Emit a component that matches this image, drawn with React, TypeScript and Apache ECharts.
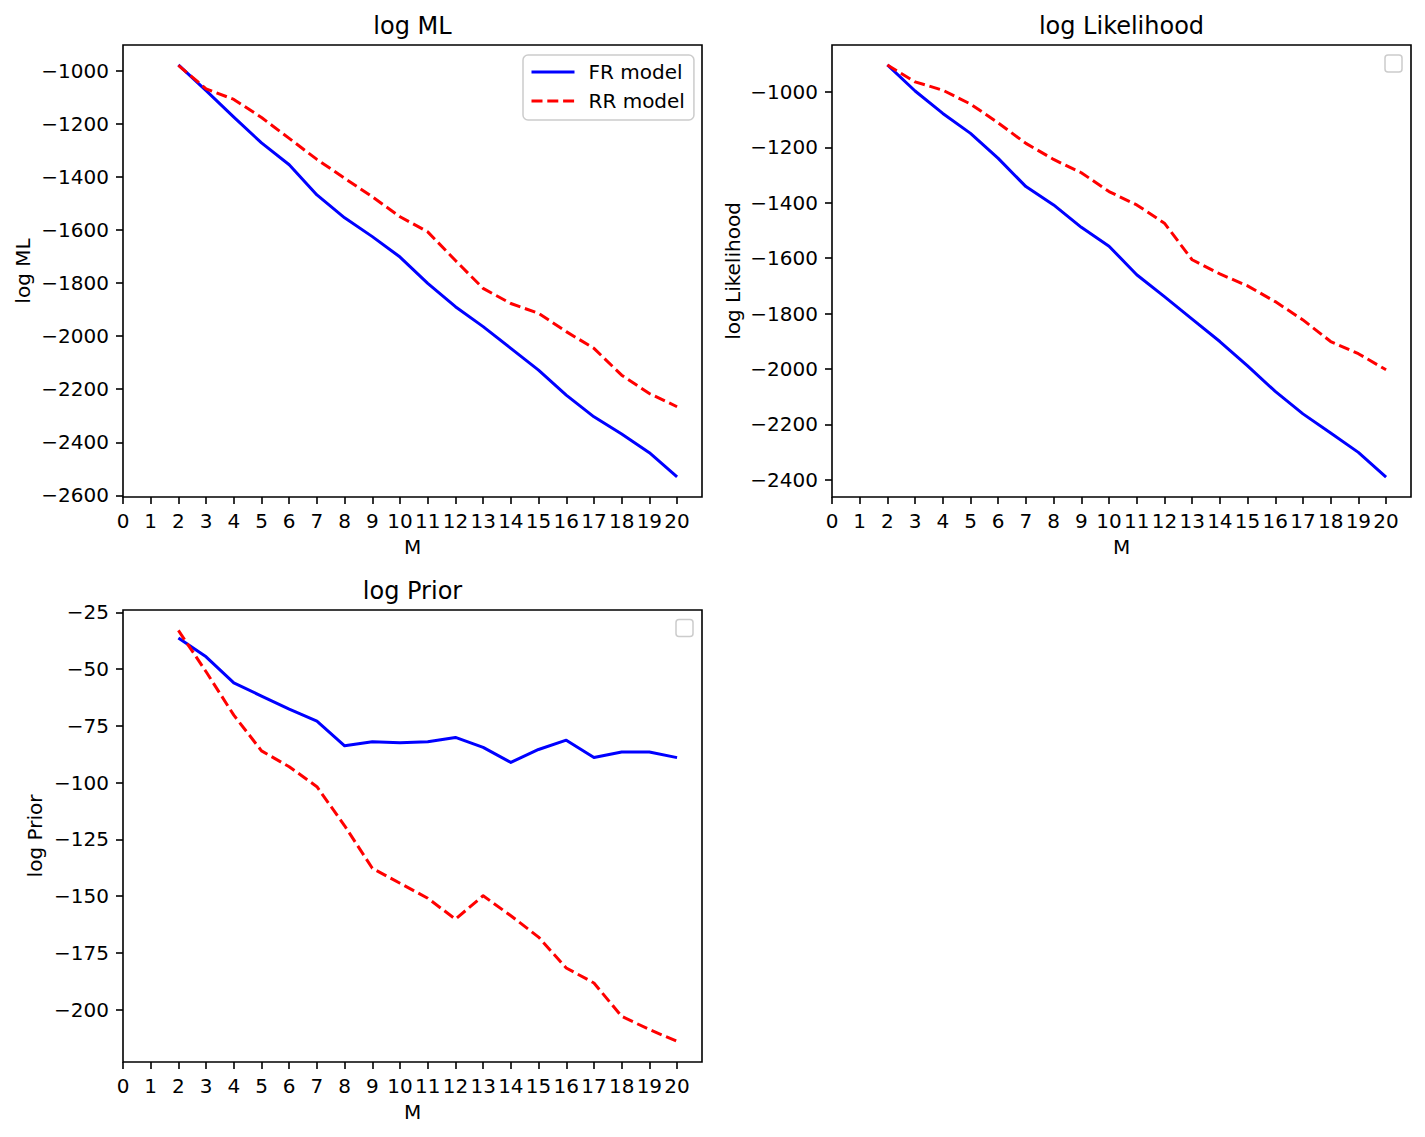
import React, { useEffect, useRef } from "react";
import * as echarts from "echarts";

// ---- data ----
const M = [2, 3, 4, 5, 6, 7, 8, 9, 10, 11, 12, 13, 14, 15, 16, 17, 18, 19, 20];

const frML = [-978, -1075, -1175, -1272, -1354, -1468, -1554, -1625, -1702, -1801, -1889, -1964, -2046, -2128, -2222, -2304, -2369, -2439, -2530];
const rrML = [-980, -1068, -1108, -1176, -1255, -1334, -1405, -1475, -1550, -1607, -1715, -1820, -1877, -1914, -1983, -2046, -2147, -2216, -2266];

const frLik = [-903, -997, -1078, -1150, -1240, -1342, -1408, -1489, -1557, -1660, -1739, -1820, -1901, -1989, -2081, -2162, -2231, -2301, -2390];
const rrLik = [-903, -964, -994, -1044, -1112, -1186, -1244, -1292, -1360, -1408, -1474, -1606, -1657, -1700, -1757, -1823, -1901, -1945, -2003];

const frPrior = [-36.3, -44.6, -56.1, -61.9, -67.6, -72.9, -83.8, -82.0, -82.4, -82.0, -80.1, -84.5, -91.1, -85.4, -81.3, -88.9, -86.5, -86.5, -89.0];
const rrPrior = [-33, -51.2, -70.3, -86, -93, -101.8, -119, -137.7, -144.3, -150.9, -160.1, -149.8, -158.6, -168, -181.6, -188.2, -202.9, -208.7, -213.9];

// ---- tick labels ----
const xTicks = [0, 1, 2, 3, 4, 5, 6, 7, 8, 9, 10, 11, 12, 13, 14, 15, 16, 17, 18, 19, 20];
const yTicksML = [-2600, -2400, -2200, -2000, -1800, -1600, -1400, -1200, -1000];
const yTicksLik = [-2400, -2200, -2000, -1800, -1600, -1400, -1200, -1000];
const yTicksPrior = [-200, -175, -150, -125, -100, -75, -50, -25];

const titles = ["log ML", "log Likelihood", "log Prior"];
const seriesNames = ["FR model", "RR model"];

const FONT = "DejaVu Sans";
const BLUE = "#0000ff";
const RED = "#ff0000";

const fmt = (v: number) => String(v).replace("-", "\u2212");

export default function App() {
  const ref = useRef<HTMLDivElement>(null);

  useEffect(() => {
    const chart = echarts.init(ref.current!, null, { renderer: "svg" });

    const grids = [
      { left: 123, top: 45, width: 579, height: 452 },
      { left: 832, top: 45, width: 579, height: 452 },
      { left: 123, top: 610, width: 579, height: 452 },
    ];
    const yRanges = [
      [-2606, -903],
      [-2462, -831],
      [-223, -24],
    ];
    const yTicks = [yTicksML, yTicksLik, yTicksPrior];
    const yNameGaps = [90, 89, 78];
    const pairs = [
      [frML, rrML],
      [frLik, rrLik],
      [frPrior, rrPrior],
    ];

    const tickStyle = { color: "#000", width: 1.6 };
    const labelBase = { fontFamily: FONT, fontSize: 20, color: "#000" };

    const xAxis = grids.map((_, i) => ({
      type: "value",
      gridIndex: i,
      min: 0,
      max: 20.9,
      name: "M",
      nameLocation: "middle",
      nameGap: 40,
      nameTextStyle: { ...labelBase },
      axisLine: { show: false, onZero: false },
      splitLine: { show: false },
      axisTick: { show: true, inside: false, length: 7, lineStyle: tickStyle, customValues: xTicks },
      axisLabel: { ...labelBase, margin: 14, customValues: xTicks, formatter: fmt, hideOverlap: false },
    }));

    const yAxis = grids.map((_, i) => ({
      type: "value",
      gridIndex: i,
      min: yRanges[i][0],
      max: yRanges[i][1],
      name: titles[i],
      nameLocation: "middle",
      nameGap: yNameGaps[i],
      nameTextStyle: { ...labelBase },
      axisLine: { show: false, onZero: false },
      splitLine: { show: false },
      axisTick: { show: true, inside: false, length: 7, lineStyle: tickStyle, customValues: yTicks[i] },
      axisLabel: { ...labelBase, margin: 14, customValues: yTicks[i], formatter: fmt },
    }));

    const series: any[] = [];
    pairs.forEach((p, i) => {
      series.push({
        type: "line",
        name: seriesNames[0],
        xAxisIndex: i,
        yAxisIndex: i,
        data: M.map((m, k) => [m, p[0][k]]),
        symbol: "none",
        showSymbol: false,
        lineStyle: { color: BLUE, width: 3, type: "solid", cap: "butt", join: "round" },
        itemStyle: { color: BLUE },
      });
      series.push({
        type: "line",
        name: seriesNames[1],
        xAxisIndex: i,
        yAxisIndex: i,
        data: M.map((m, k) => [m, p[1][k]]),
        symbol: "none",
        showSymbol: false,
        lineStyle: { color: RED, width: 3, type: [11, 4.8], cap: "butt", join: "round" },
        itemStyle: { color: RED },
      });
    });

    const titleGraphics = grids.map((g, i) => ({
      type: "text",
      x: g.left + g.width / 2,
      y: g.top - 19,
      style: {
        text: titles[i],
        font: `24px "${FONT}"`,
        fill: "#000",
        textAlign: "center",
        textVerticalAlign: "middle",
        align: "center",
        verticalAlign: "middle",
      },
    }));

    const emptyLegends = [
      { x: 1385, y: 55 },
      { x: 676, y: 619.5 },
    ].map((p) => ({
      type: "rect",
      shape: { x: p.x, y: p.y, width: 17, height: 17, r: 3 },
      style: { fill: "rgba(255,255,255,0.8)", stroke: "#cccccc", lineWidth: 1.5 },
    }));

    chart.setOption({
      animation: false,
      backgroundColor: "#ffffff",
      grid: grids.map((g) => ({
        ...g,
        show: true,
        borderColor: "#000",
        borderWidth: 1.6,
        backgroundColor: "transparent",
        containLabel: false,
      })),
      xAxis,
      yAxis,
      legend: {
        data: seriesNames,
        orient: "vertical",
        left: 523,
        top: 55,
        padding: [7, 9, 9, 7],
        itemWidth: 43,
        itemHeight: 14,
        itemGap: 9,
        selectedMode: false,
        backgroundColor: "rgba(255,255,255,0.8)",
        borderColor: "#cccccc",
        borderWidth: 1.5,
        borderRadius: 5,
        itemStyle: { opacity: 0, borderWidth: 0 },
        lineStyle: { width: 3 },
        textStyle: { ...labelBase, lineHeight: 20, padding: [0, 0, 0, 9] },
      },
      graphic: [...titleGraphics, ...emptyLegends],
      series,
    });

    return () => chart.dispose();
  }, []);

  return (
    <div
      ref={ref}
      style={{ position: "absolute", left: 0, top: 0, width: 1425, height: 1137, background: "#fff" }}
    />
  );
}
